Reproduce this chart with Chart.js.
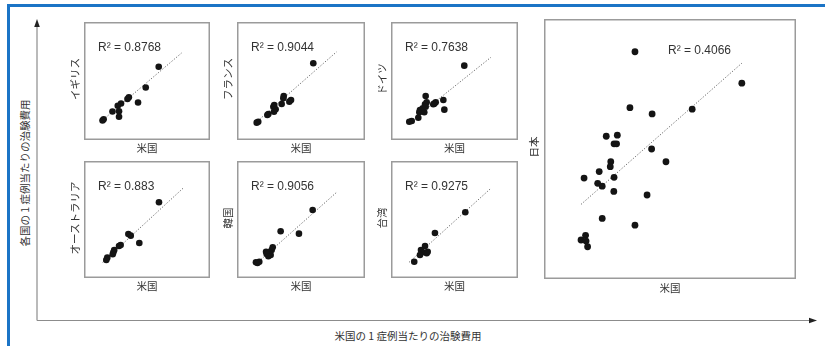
<!DOCTYPE html>
<html lang="ja">
<head>
<meta charset="utf-8">
<title>1症例当たりの治験費用：米国と各国の比較</title>
<script src="https://cdn.jsdelivr.net/npm/chart.js@4/dist/chart.umd.min.js"></script>
<style>
  html, body { margin: 0; padding: 0; background: #fff; }
  #stage { position: relative; width: 825px; height: 346px; overflow: hidden; background: #fff;
           font-family: "Noto Sans CJK JP", "Noto Sans", sans-serif; color: #333; }
  .frame-top { position: absolute; left: 7px; top: 4px; right: 0; height: 2.5px; background: #1b74c6; }
  .frame-left { position: absolute; left: 7px; top: 4px; width: 2.5px; bottom: 0; background: #1b74c6; }
  .panel { position: absolute; }
  .panel canvas { display: block; }
  .lbl { position: absolute; white-space: nowrap; font-size: 10.5px; line-height: 1; transform: translate(-50%, -50%); }
  .rot { transform: translate(-50%, -50%) rotate(-90deg); }
  .r2 { position: absolute; white-space: nowrap; font-family: "Liberation Sans", Arial, sans-serif;
        font-size: 12px; line-height: 1; color: #333; transform: translateY(-50%); }
  #axes { position: absolute; left: 0; top: 0; }
</style>
</head>
<body>
<div id="stage">
  <div class="frame-top"></div>
  <div class="frame-left"></div>
  <svg id="axes" width="825" height="346">
    <line x1="37" y1="320.5" x2="37" y2="26" stroke="#8c8c8c" stroke-width="1.2"/>
    <polygon points="37,19 34.2,27 39.8,27" fill="#222"/>
    <line x1="37" y1="320.5" x2="810" y2="320.5" stroke="#8c8c8c" stroke-width="1.2"/>
    <polygon points="817,320.5 809,317.7 809,323.3" fill="#222"/>
  </svg>
  <div class="lbl rot" style="left:25px; top:173px; font-size:10.5px;">各国の 1 症例当たりの治験費用</div>
  <div class="lbl" style="left:408px; top:336px; font-size:10.5px;">米国の 1 症例当たりの治験費用</div>
</div>
<script>
// Cost per patient: [United States, country] pairs, relative units (0–100)
const ukCost = [[59.3,62.1],[49.0,44.5],[42.9,31.8],[35.6,36.2],[34.5,34.7],[29.4,30.9],[26.8,29.0],
                [22.6,24.2],[27.8,24.4],[27.8,19.7],[15.6,17.6],[14.7,16.5]];
const franceCost = [[59.6,65.0],[42.2,33.9],[40.9,32.5],[36.5,37.3],[36.2,35.3],[34.9,30.5],[29.1,29.7],
                    [28.4,28.2],[30.2,26.0],[28.9,24.0],[24.5,22.0],[23.7,21.2],[16.6,15.5],[15.4,14.7]];
const germanyCost = [[57.7,63.0],[41.2,33.9],[42.0,25.7],[35.2,31.9],[34.1,30.8],[33.3,30.3],[27.3,37.3],
                     [28.1,31.9],[26.8,30.3],[27.3,28.2],[25.0,26.9],[22.8,25.4],[22.3,23.5],[26.2,23.5],
                     [21.5,18.9],[16.3,16.1],[14.4,15.5]];
const australiaCost = [[59.5,64.7],[43.9,29.9],[35.2,37.6],[37.1,36.2],[29.1,28.2],[27.8,27.4],[24.0,23.9],
                       [23.3,22.0],[22.8,20.3],[18.5,17.4],[17.7,15.4]];
const koreaCost = [[59.1,58.1],[48.4,37.9],[34.1,39.9],[27.9,26.2],[27.1,23.9],[25.0,22.0],[26.3,19.7],
                   [22.7,22.5],[23.2,20.5],[24.5,18.6],[17.4,13.9],[14.8,13.4],[16.0,12.8]];
const taiwanCost = [[58.5,56.2],[34.6,38.5],[26.8,27.4],[23.6,23.9],[25.0,22.0],[28.1,21.1],[28.9,22.5],
                    [22.8,19.7],[18.3,13.9]];
const japanCost = [[36.1,87.4],[78.5,75.3],[58.8,65.3],[34.1,65.9],[42.9,63.5],[24.7,54.9],[29.1,55.3],
                   [27.8,52.0],[28.8,52.0],[42.7,50.0],[48.4,45.1],[26.5,45.1],[26.3,43.2],[21.9,41.3],
                   [15.9,38.8],[27.8,39.1],[21.3,36.8],[23.1,35.7],[27.7,33.7],[40.9,32.3],[23.1,23.3],
                   [36.1,20.7],[16.5,16.8],[14.7,15.0],[16.7,14.6],[17.3,12.4]];

// Fitted trend lines: two end points each
const ukTrend = [[13.3,15.5],[77.4,73.7]];
const franceTrend = [[14.1,14.2],[77.9,74.8]];
const germanyTrend = [[13.6,14.2],[78.7,70.1]];
const australiaTrend = [[14.8,13.4],[79.4,77.5]];
const koreaTrend = [[15.4,12.6],[78.4,73.8]];
const taiwanTrend = [[14.2,13.4],[78.7,76.7]];
const japanTrend = [[14.7,28.7],[78.5,83.0]];

const countries = ['イギリス','フランス','ドイツ','オーストラリア','韓国','台湾','日本'];
const rSquared = ['0.8768','0.9044','0.7638','0.883','0.9056','0.9275','0.4066'];
const xAxisName = '米国';

const panels = [
  { name: countries[0], r2: rSquared[0], pts: ukCost, trend: ukTrend, box: [84, 22, 126, 118], r: 3.3 },
  { name: countries[1], r2: rSquared[1], pts: franceCost, trend: franceTrend, box: [237, 22, 128, 118], r: 3.3 },
  { name: countries[2], r2: rSquared[2], pts: germanyCost, trend: germanyTrend, box: [391, 22, 127, 118], r: 3.3 },
  { name: countries[3], r2: rSquared[3], pts: australiaCost, trend: australiaTrend, box: [84, 161, 126, 117], r: 3.3 },
  { name: countries[4], r2: rSquared[4], pts: koreaCost, trend: koreaTrend, box: [237, 161, 128, 117], r: 3.3 },
  { name: countries[5], r2: rSquared[5], pts: taiwanCost, trend: taiwanTrend, box: [391, 161, 127, 117], r: 3.3 },
  { name: countries[6], r2: rSquared[6], pts: japanCost, trend: japanTrend, box: [544, 19, 252, 260], r: 3.4 }
];

// Grey frame around each plot area
const framePlugin = {
  id: 'panelFrame',
  afterDraw(chart) {
    const { ctx, chartArea: a } = chart;
    ctx.save();
    ctx.strokeStyle = '#9b9b9b';
    ctx.lineWidth = 1.5;
    ctx.strokeRect(a.left + 0.75, a.top + 0.75, a.right - a.left - 1.5, a.bottom - a.top - 1.5);
    ctx.restore();
  }
};

const stage = document.getElementById('stage');

function addLabel(text, cx, cy, cls, extra) {
  const d = document.createElement('div');
  d.className = cls;
  d.textContent = text;
  d.style.left = cx + 'px';
  d.style.top = cy + 'px';
  if (extra) Object.assign(d.style, extra);
  stage.appendChild(d);
}

panels.forEach((p, i) => {
  const [left, top, w, h] = p.box;
  const wrap = document.createElement('div');
  wrap.className = 'panel';
  wrap.style.left = left + 'px';
  wrap.style.top = top + 'px';
  const cv = document.createElement('canvas');
  cv.width = w; cv.height = h;
  cv.style.width = w + 'px'; cv.style.height = h + 'px';
  wrap.appendChild(cv);
  stage.appendChild(wrap);

  new Chart(cv, {
    type: 'scatter',
    data: {
      datasets: [
        {
          data: p.trend.map(([x, y]) => ({ x, y })),
          showLine: true,
          borderColor: '#555',
          borderWidth: 0.9,
          borderDash: [1.2, 1.8],
          pointRadius: 0,
          order: 2
        },
        {
          data: p.pts.map(([x, y]) => ({ x, y })),
          backgroundColor: '#141414',
          borderColor: '#141414',
          borderWidth: 0,
          pointRadius: p.r,
          order: 1
        }
      ]
    },
    options: {
      responsive: false,
      devicePixelRatio: 1,
      animation: false,
      layout: { padding: 0, autoPadding: false },
      plugins: { legend: { display: false }, tooltip: { enabled: false }, title: { display: false } },
      scales: {
        x: { type: 'linear', min: 0, max: 100, display: false },
        y: { type: 'linear', min: 0, max: 100, display: false }
      }
    },
    plugins: [framePlugin]
  });

  // Labels around each panel
  const isBig = i === 6;
  addLabel(xAxisName, left + w / 2, top + h + (isBig ? 9 : 8), 'lbl');
  addLabel(p.name, left - (isBig ? 10 : 9.5), top + h / 2 - 2, 'lbl rot');
  const r2 = document.createElement('div');
  r2.className = 'r2';
  r2.textContent = 'R² = ' + p.r2;
  r2.style.left = (isBig ? left + 124 : left + 14) + 'px';
  r2.style.top = (isBig ? top + 31 : top + 25) + 'px';
  stage.appendChild(r2);
});
</script>
</body>
</html>
